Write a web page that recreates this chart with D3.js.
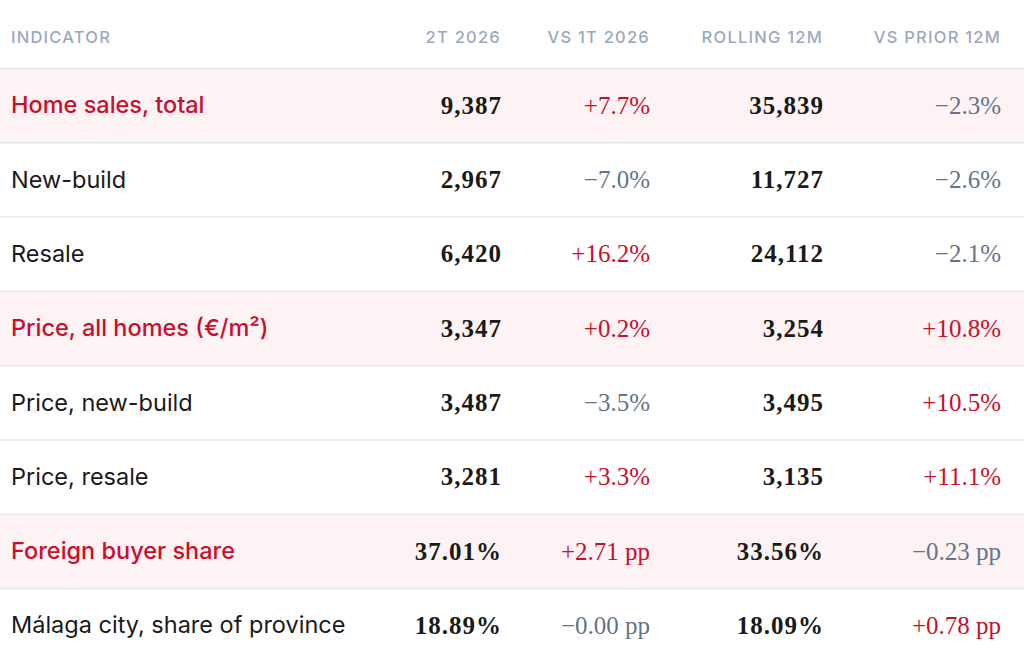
<!DOCTYPE html>
<html>
<head>
<meta charset="utf-8">
<script src="https://cdn.jsdelivr.net/npm/d3@7"></script>
<style>
  html, body { margin: 0; padding: 0; background: #fff; }
  svg { display: block; }
</style>
</head>
<body>
<div id="chart"></div>
<script>
// table data
const columns = ["Indicator", "2T 2026", "vs 1T 2026", "Rolling 12M", "vs prior 12M"];
const indicators = [
  "Home sales, total", "New-build", "Resale",
  "Price, all homes (€/m²)", "Price, new-build", "Price, resale",
  "Foreign buyer share", "Málaga city, share of province"
];
const headlineRows = ["Home sales, total", "Price, all homes (€/m²)", "Foreign buyer share"];
const quarterValues = ["9,387", "2,967", "6,420", "3,347", "3,487", "3,281", "37.01%", "18.89%"];
const quarterChange = ["+7.7%", "−7.0%", "+16.2%", "+0.2%", "−3.5%", "+3.3%", "+2.71 pp", "−0.00 pp"];
const rollingValues = ["35,839", "11,727", "24,112", "3,254", "3,495", "3,135", "33.56%", "18.09%"];
const rollingChange = ["−2.3%", "−2.6%", "−2.1%", "+10.8%", "+10.5%", "+11.1%", "−0.23 pp", "+0.78 pp"];

const width = 1024, height = 650;
const headerH = 68, rowH = 74.3;
const red = "#c8102e", grey = "#64748b", ink = "#1a1a1a";

const svg = d3.select("#chart").append("svg")
  .attr("width", width).attr("height", height);

const y = d3.scaleBand()
  .domain(indicators)
  .range([headerH, headerH + rowH * indicators.length]);

// right edges of numeric columns
const x = d3.scaleOrdinal()
  .domain(columns)
  .range([11, 501, 650, 823, 1001]);

const rows = indicators.map((name, i) => ({
  name,
  headline: headlineRows.includes(name),
  cells: [quarterValues[i], quarterChange[i], rollingValues[i], rollingChange[i]]
}));

// header
svg.append("g").selectAll("text")
  .data(columns)
  .join("text")
  .attr("x", d => x(d))
  .attr("y", 37)
  .attr("dy", "0.35em")
  .attr("text-anchor", (d, i) => i === 0 ? "start" : "end")
  .style("font-family", "Inter, 'Open Sans', sans-serif")
  .style("font-size", "16.5px")
  .style("font-weight", 500)
  .style("letter-spacing", "0.075em")
  .style("fill", "#9aa9bf")
  .text(d => d.toUpperCase());

const row = svg.append("g").selectAll("g")
  .data(rows)
  .join("g")
  .attr("transform", d => `translate(0,${y(d.name)})`);

row.append("rect")
  .attr("width", width)
  .attr("height", y.bandwidth())
  .style("fill", d => d.headline ? "#fdf2f4" : "#fff");

row.append("line")
  .attr("x1", 0).attr("x2", width)
  .attr("y1", 0.5).attr("y2", 0.5)
  .style("stroke", "#e6e8f0")
  .style("stroke-width", 1.5);

row.append("text")
  .attr("x", x(columns[0]))
  .attr("y", y.bandwidth() / 2)
  .attr("dy", "0.35em")
  .style("font-family", "Inter, 'Open Sans', sans-serif")
  .style("font-size", "23.5px")
  .style("font-weight", d => d.headline ? 500 : 400)
  .style("fill", d => d.headline ? red : ink)
  .text(d => d.name);

row.selectAll("text.cell")
  .data(d => d.cells.map((v, j) => ({ v, j })))
  .join("text")
  .attr("class", "cell")
  .attr("x", d => x(columns[d.j + 1]) + (d.j % 2 === 0 ? 1 : 0))
  .attr("y", y.bandwidth() / 2)
  .attr("dy", "0.35em")
  .attr("text-anchor", "end")
  .style("font-family", "'Liberation Serif', serif")
  .style("font-size", "25px")
  .style("font-weight", d => d.j % 2 === 0 ? 700 : 400)
  .style("letter-spacing", d => d.j % 2 === 0 ? "1px" : "0px")
  .style("fill", d => d.j % 2 === 0 ? ink : (d.v.startsWith("+") ? red : grey))
  .text(d => d.v);
</script>
</body>
</html>
